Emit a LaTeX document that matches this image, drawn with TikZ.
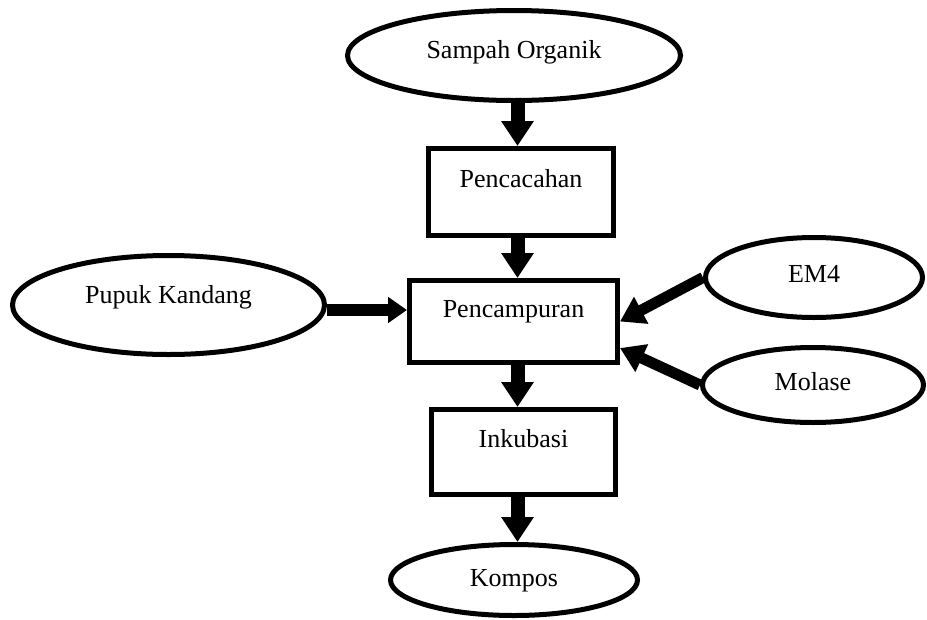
\documentclass[tikz,border=0pt]{standalone}
\usepackage{fontspec}
\setmainfont{Liberation Serif}
\usetikzlibrary{arrows.meta,shapes.geometric,calc}
\begin{document}
\begin{tikzpicture}[x=1pt,y=1pt,
  every node/.style={font=\fontsize{26}{31}\selectfont, inner sep=0pt, text height=18pt},
  oval/.style={draw, ellipse, line width=5pt},
  box/.style={draw, rectangle, line width=5pt, text depth=28pt},
  varr/.style={line width=14pt, -{Triangle[length=25pt,width=31pt]}},
  harr/.style={line width=12pt, -{Triangle[length=19pt,width=25pt]}},
  darr/.style={line width=11pt, -{Triangle[length=24pt,width=29pt]}}]
\useasboundingbox (0,0) rectangle (927,-619);
\node[oval, minimum width=333pt, minimum height=90pt, text depth=12pt] (so) at (514,-55.5) {Sampah Organik};
\node[box, minimum width=185pt, minimum height=87pt] (pc) at (521,-192) {Pencacahan};
\node[box, minimum width=208pt, minimum height=82pt, text depth=27pt] (pm) at (513.5,-321.5) {Pencampuran};
\node[box, minimum width=184pt, minimum height=85pt] (ink) at (523.5,-452) {Inkubasi};
\node[oval, minimum width=247pt, minimum height=71pt, text depth=5pt] (ko) at (514,-580) {Kompos};
\node[oval, minimum width=312pt, minimum height=99pt, text depth=22pt] (pk) at (168.5,-305) {Pupuk Kandang};
\node[oval, minimum width=217pt, minimum height=80pt, text depth=8pt] (em) at (814,-277.5) {EM4};
\node[oval, minimum width=221pt, minimum height=75pt, text depth=8pt] (mo) at (813,-385) {Molase};
\coordinate (col) at (517.5,0);
\draw[varr] (so.south -| col) -- (pc.north -| col);
\draw[varr] (pc.south -| col) -- (pm.north -| col);
\draw[varr] (pm.south -| col) -- (ink.north -| col);
\draw[varr] (ink.south -| col) -- (ko.north -| col);
\draw[harr] ([yshift=-5pt]pk.east) -- ([yshift=-5pt]pk.east -| pm.west);
\draw[darr] (em.west) -- (pm.east);
\draw[darr] (mo.west) -- (pm.-14);
\end{tikzpicture}
\end{document}
